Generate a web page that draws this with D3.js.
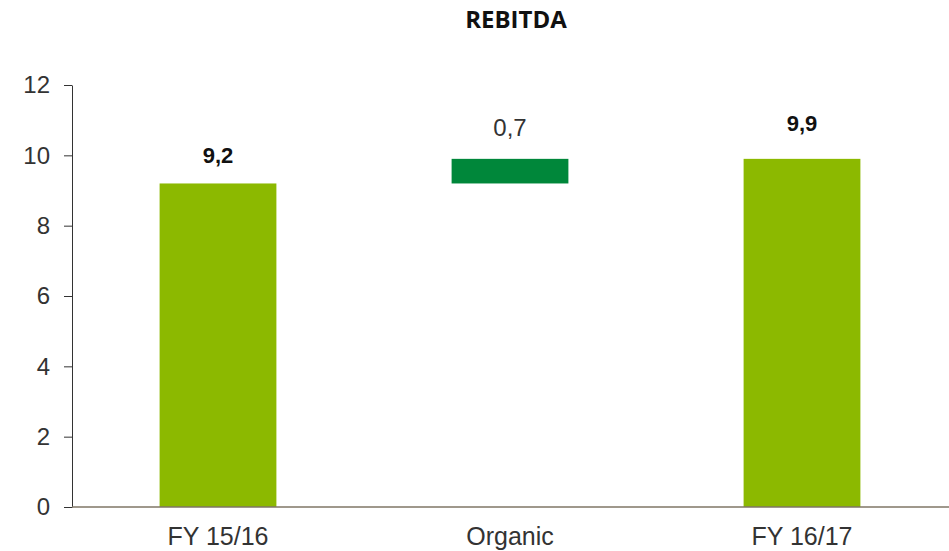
<!DOCTYPE html>
<html><head><meta charset="utf-8">
<script src="https://cdn.jsdelivr.net/npm/d3@7"></script>
<style>body{margin:0;background:#fff;}svg{display:block;}</style>
</head><body>
<script>
const categories = ["FY 15/16", "Organic", "FY 16/17"];
const starts = [0, 9.2, 0];
const ends = [9.2, 9.9, 9.9];
const labels = ["9,2", "0,7", "9,9"];
const yTicks = [0, 2, 4, 6, 8, 10, 12];

const labelStyle = {
  "FY 15/16": {bold: true, size: 22, gap: 20, color: "#8cb900"},
  "Organic": {bold: false, size: 24, gap: 23, color: "#00873a"},
  "FY 16/17": {bold: true, size: 22, gap: 28, color: "#8cb900"}
};

const W = 949, H = 551;
const FONT = "Liberation Sans, Arial, sans-serif";
const svg = d3.select("body").append("svg").attr("width", W).attr("height", H);
const x = d3.scaleBand().domain(categories).range([72, 948]).paddingInner(0.6).paddingOuter(0.3);
const y = d3.scaleLinear().domain([0, 12]).range([507, 85]);

svg.append("text").attr("x", 516).attr("y", 28).attr("text-anchor", "middle")
  .attr("font-family", "Open Sans, sans-serif").attr("font-weight", "bold").attr("font-size", 24)
  .attr("fill", "#111").text("REBITDA");

svg.selectAll("rect.bar").data(categories).join("rect").attr("class", "bar")
  .attr("x", d => x(d)).attr("width", x.bandwidth())
  .attr("y", (d, i) => y(ends[i])).attr("height", (d, i) => y(starts[i]) - y(ends[i]))
  .attr("fill", d => labelStyle[d].color);

svg.selectAll("text.val").data(categories).join("text").attr("class", "val")
  .attr("x", d => x(d) + x.bandwidth() / 2)
  .attr("y", (d, i) => y(ends[i]) - labelStyle[d].gap)
  .attr("text-anchor", "middle")
  .attr("font-family", FONT)
  .attr("font-weight", d => labelStyle[d].bold ? "bold" : "normal")
  .attr("font-size", d => labelStyle[d].size)
  .attr("fill", d => labelStyle[d].bold ? "#111" : "#333").text((d, i) => labels[i]);

const yAxis = svg.append("g").attr("transform", "translate(72,0)")
  .call(d3.axisLeft(y).tickValues(yTicks).tickSize(8).tickPadding(14).tickSizeOuter(0).tickFormat(d3.format("d")));
yAxis.select(".domain").attr("stroke", "#333");
yAxis.selectAll(".tick line").attr("stroke", "#333");
yAxis.selectAll(".tick text").attr("font-family", FONT).attr("font-size", 24).attr("fill", "#333");

const xAxis = svg.append("g").attr("transform", "translate(0,507)")
  .call(d3.axisBottom(x).tickSize(0).tickPadding(20));
xAxis.select(".domain").attr("stroke", "#7f7666").attr("stroke-width", 1.5).attr("d", "M72,0H949");
xAxis.selectAll(".tick text").attr("font-family", FONT)
  .attr("font-size", 25).attr("fill", "#333").attr("dy", "0.71em");
</script>
</body></html>
